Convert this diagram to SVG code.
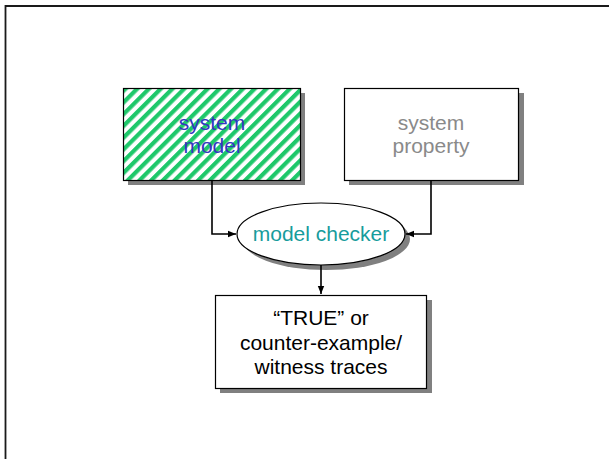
<svg xmlns="http://www.w3.org/2000/svg" width="609" height="459" viewBox="0 0 609 459">
  <style>
    .box { stroke: #000; stroke-width: 1.2; }
    .shadow { fill: #808080; stroke: none; }
    .lbl { font-family: "Liberation Sans", "DejaVu Sans", sans-serif; font-size: 21px; text-anchor: middle; }
    .conn { fill: none; stroke: #000; stroke-width: 1.6; }
  </style>
  <defs>
    <pattern id="stripes" patternUnits="userSpaceOnUse" width="8.3" height="8.3" patternTransform="rotate(45)">
      <rect width="8.3" height="8.3" fill="#ffffff"/>
      <rect width="4.2" height="8.3" fill="#1ec86a"/>
    </pattern>
    <marker id="arrow" viewBox="0 0 10 10" refX="10" refY="5" markerWidth="5" markerHeight="5" orient="auto" markerUnits="strokeWidth">
      <path d="M0,1 L10,5 L0,9 z" fill="#000"/>
    </marker>
  </defs>

  <rect width="609" height="459" fill="#ffffff"/>
  <!-- page frame -->
  <path d="M5.5,459 V6 H609" fill="none" stroke="#1a1a1a" stroke-width="1.8"/>

  <g id="system-model">
    <rect class="shadow" x="128" y="93" width="177" height="92"/>
    <rect class="box" x="123.5" y="88.5" width="177" height="92" fill="url(#stripes)"/>
    <text class="lbl" x="212" y="130" fill="#3535c0">system</text>
    <text class="lbl" x="212" y="153" fill="#3535c0">model</text>
  </g>

  <g id="system-property">
    <rect class="shadow" x="349" y="93" width="175" height="92"/>
    <rect class="box" x="344.5" y="88.5" width="174" height="92" fill="#ffffff"/>
    <text class="lbl" x="431" y="130" fill="#8a8a8a">system</text>
    <text class="lbl" x="431" y="153" fill="#8a8a8a">property</text>
  </g>

  <g id="model-checker">
    <ellipse class="shadow" cx="326" cy="239" rx="84" ry="31"/>
    <ellipse class="box" cx="321" cy="234" rx="84" ry="31" fill="#ffffff"/>
    <text class="lbl" x="321" y="241" fill="#179c9c">model checker</text>
  </g>

  <g id="result">
    <rect class="shadow" x="220" y="300" width="212" height="93"/>
    <rect class="box" x="215.5" y="295.5" width="211" height="93" fill="#ffffff"/>
    <text class="lbl" x="321" y="325" fill="#000">“TRUE” or</text>
    <text class="lbl" x="321" y="350" fill="#000">counter-example/</text>
    <text class="lbl" x="321" y="374" fill="#000">witness traces</text>
  </g>

  <g id="connectors">
    <path class="conn" d="M212,181 V234 H236" marker-end="url(#arrow)"/>
    <path class="conn" d="M431,181 V234 H406" marker-end="url(#arrow)"/>
    <path class="conn" d="M321,265 V294" marker-end="url(#arrow)"/>
  </g>
</svg>
